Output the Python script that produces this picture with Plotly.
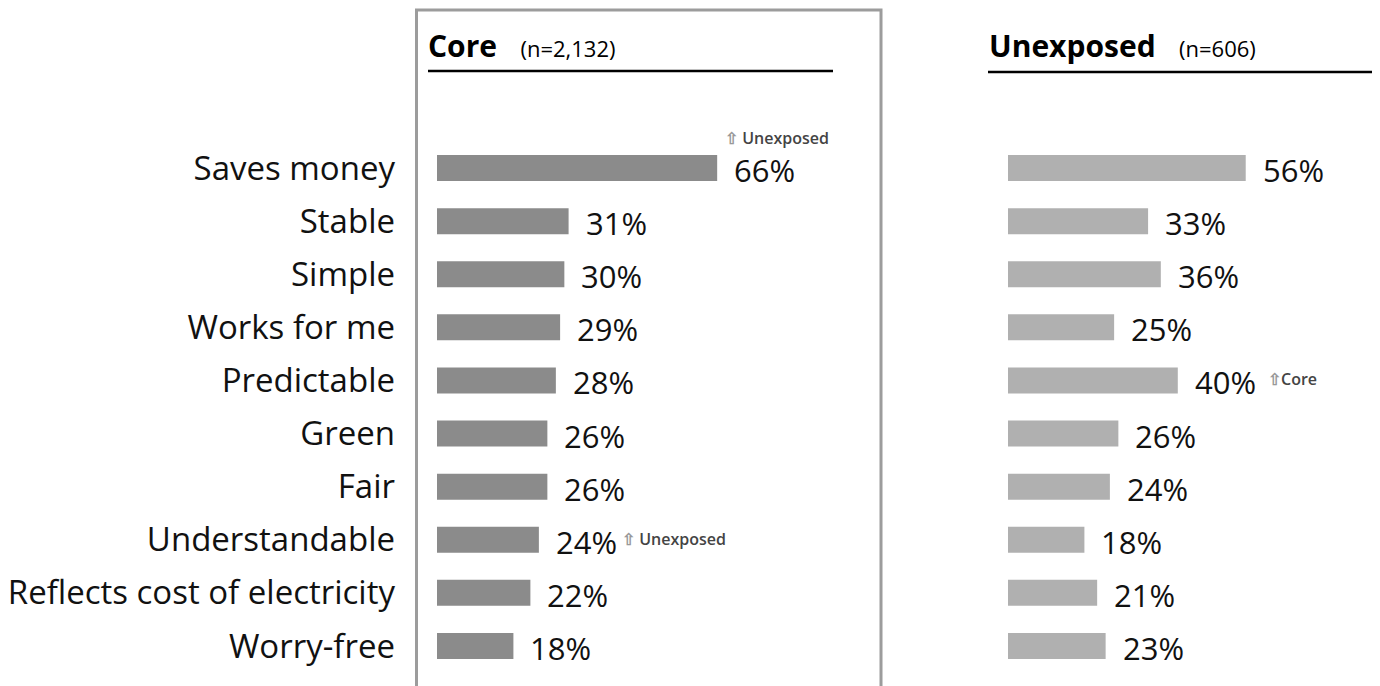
import plotly.graph_objects as go

categories = ["Saves money", "Stable", "Simple", "Works for me", "Predictable",
              "Green", "Fair", "Understandable", "Reflects cost of electricity", "Worry-free"]
core_values = [66, 31, 30, 29, 28, 26, 26, 24, 22, 18]
unexposed_values = [56, 33, 36, 25, 40, 26, 24, 18, 21, 23]
core_title = "Core"
core_n = "(n=2,132)"
unexp_title = "Unexposed"
unexp_n = "(n=606)"
# significance flags: (panel, category, label, placement)
sig_notes = [("core", "Saves money", " Unexposed", "above"),
             ("core", "Understandable", " Unexposed", "right"),
             ("unexp", "Predictable", "Core", "right")]

W, H = 1380, 686
OFF = 8  # page body margin
FONT = "Open Sans"
PXPP = 4.245  # pixels per percentage point

def px(x):
    return (x - OFF) / W

def py(y):
    return 1 - (y - OFF) / H

left_x0, left_x1 = 437, 880
right_x0, right_x1 = 1008, 1388
top_slot, slot = 141.5, 53.1
ydom = [py(top_slot + slot * len(categories)), py(top_slot)]

fig = go.Figure()
fig.add_trace(go.Bar(y=categories, x=core_values, orientation="h",
                     marker=dict(color="#8b8b8b", line=dict(width=0)),
                     width=0.49, xaxis="x", yaxis="y", hoverinfo="x+y"))
fig.add_trace(go.Bar(y=categories, x=unexposed_values, orientation="h",
                     marker=dict(color="#b0b0b0", line=dict(width=0)),
                     width=0.49, xaxis="x2", yaxis="y2", hoverinfo="x+y"))

annotations = []
for c, v in zip(categories, core_values):
    annotations.append(dict(x=v, y=c, xref="x", yref="y", text=f"{v}%", showarrow=False,
                            xanchor="left", xshift=15, yshift=-2,
                            font=dict(family=FONT, size=31, color="#111")))
for c, v in zip(categories, unexposed_values):
    annotations.append(dict(x=v, y=c, xref="x2", yref="y2", text=f"{v}%", showarrow=False,
                            xanchor="left", xshift=15, yshift=-2,
                            font=dict(family=FONT, size=31, color="#111")))

for panel, cat, txt, pos in sig_notes:
    vals = core_values if panel == "core" else unexposed_values
    v = vals[categories.index(cat)]
    xr, yr = ("x", "y") if panel == "core" else ("x2", "y2")
    label = f"<span style='color:#999'>⇧</span>{txt}"
    if pos == "above":
        annotations.append(dict(x=v, y=cat, xref=xr, yref=yr, text=label, showarrow=False,
                                xanchor="left", xshift=6, yshift=30,
                                font=dict(family=FONT, size=16, color="#444", weight=600)))
    else:
        annotations.append(dict(x=v, y=cat, xref=xr, yref=yr, text=label, showarrow=False,
                                xanchor="left", xshift=(81 if panel == "core" else 88), yshift=1,
                                font=dict(family=FONT, size=16, color="#444", weight=600)))

# headers
annotations.append(dict(x=px(426), y=py(46), xref="paper", yref="paper",
                        text=f"<b>{core_title}</b>   <span style='font-size:22px'>{core_n}</span>",
                        showarrow=False, xanchor="left", yanchor="middle",
                        font=dict(family=FONT, size=30, color="#000")))
annotations.append(dict(x=px(987), y=py(46), xref="paper", yref="paper",
                        text=f"<b>{unexp_title}</b>   <span style='font-size:22px'>{unexp_n}</span>",
                        showarrow=False, xanchor="left", yanchor="middle",
                        font=dict(family=FONT, size=30, color="#000")))

shapes = [
    dict(type="rect", xref="paper", yref="paper", x0=px(416.5), x1=px(881), y0=py(720), y1=py(10),
         line=dict(color="#9c9c9c", width=3), fillcolor="rgba(0,0,0,0)", layer="below"),
    dict(type="line", xref="paper", yref="paper", x0=px(428), x1=px(833), y0=py(71), y1=py(71),
         line=dict(color="#000", width=2.5)),
    dict(type="line", xref="paper", yref="paper", x0=px(988), x1=px(1388), y0=py(72), y1=py(72),
         line=dict(color="#000", width=2.5)),
]

fig.update_layout(
    width=W, height=H, margin=dict(l=0, r=0, t=0, b=0),
    paper_bgcolor="white", plot_bgcolor="white", showlegend=False,
    annotations=annotations, shapes=shapes,
    xaxis=dict(domain=[px(left_x0), px(left_x1)], range=[0, (left_x1 - left_x0) / PXPP],
               visible=False, fixedrange=True),
    xaxis2=dict(domain=[px(right_x0), min(1.0, px(right_x1))],
                range=[0, (min(W + OFF, right_x1) - right_x0) / PXPP],
                visible=False, fixedrange=True),
    yaxis=dict(domain=ydom, categoryorder="array", categoryarray=categories,
               autorange="reversed", showgrid=False, zeroline=False, showline=False,
               ticks="", ticklabelstandoff=41,
               tickfont=dict(family=FONT, size=33, color="#111"), anchor="x"),
    yaxis2=dict(domain=ydom, categoryorder="array", categoryarray=categories,
                autorange="reversed", showgrid=False, zeroline=False, showline=False,
                showticklabels=False, anchor="x2", matches="y"),
)

fig.write_html("out.html")
